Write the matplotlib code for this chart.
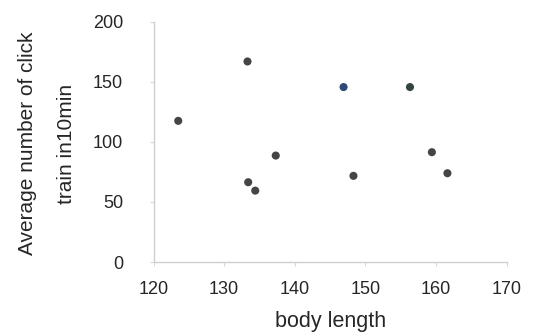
import matplotlib
matplotlib.use("Agg")
import matplotlib.pyplot as plt

plt.rcParams['font.family'] = ['Liberation Sans', 'DejaVu Sans']

# body length vs average number of click trains in 10 min
body_length = [123.5, 133.3, 146.9, 156.3, 137.3, 133.4, 134.4, 148.3, 159.4, 161.6]
click_trains = [117.5, 166.9, 145.6, 145.6, 88.6, 66.4, 59.4, 71.7, 91.4, 73.9]
point_colors = ['#454545', '#454545', '#2e4877', '#35463d', '#454545',
                '#454545', '#454545', '#454545', '#454545', '#454545']

x_ticks = [120, 130, 140, 150, 160, 170]
y_ticks = [0, 50, 100, 150, 200]

fig = plt.figure(figsize=(5.34, 3.36), dpi=100)
ax = fig.add_axes([0.2875, 0.2202, 0.6615, 0.7152])

ax.scatter(body_length, click_trains, s=34, c=point_colors, edgecolors='none', zorder=3)

ax.set_xlim(120, 170)
ax.set_ylim(0, 200)
ax.set_xticks(x_ticks)
ax.set_yticks(y_ticks)

for side in ['top', 'right']:
    ax.spines[side].set_visible(False)
for side in ['left', 'bottom']:
    ax.spines[side].set_color('#cfcfcf')
    ax.spines[side].set_linewidth(1.0)

ax.tick_params(axis='both', colors='#d8d8d8', labelcolor='#262626', labelsize=13, length=3)
ax.tick_params(axis='x', pad=11)
ax.tick_params(axis='y', pad=19)

ax.set_xlabel('body length', fontsize=15.5, color='#262626', labelpad=9)

fig.text(0.051, 0.575, 'Average number of click', rotation=90, fontsize=15,
         color='#262626', ha='center', va='center')
fig.text(0.124, 0.572, 'train in10min', rotation=90, fontsize=15,
         color='#262626', ha='center', va='center')

fig.savefig('out.png', dpi=100, facecolor='white')
